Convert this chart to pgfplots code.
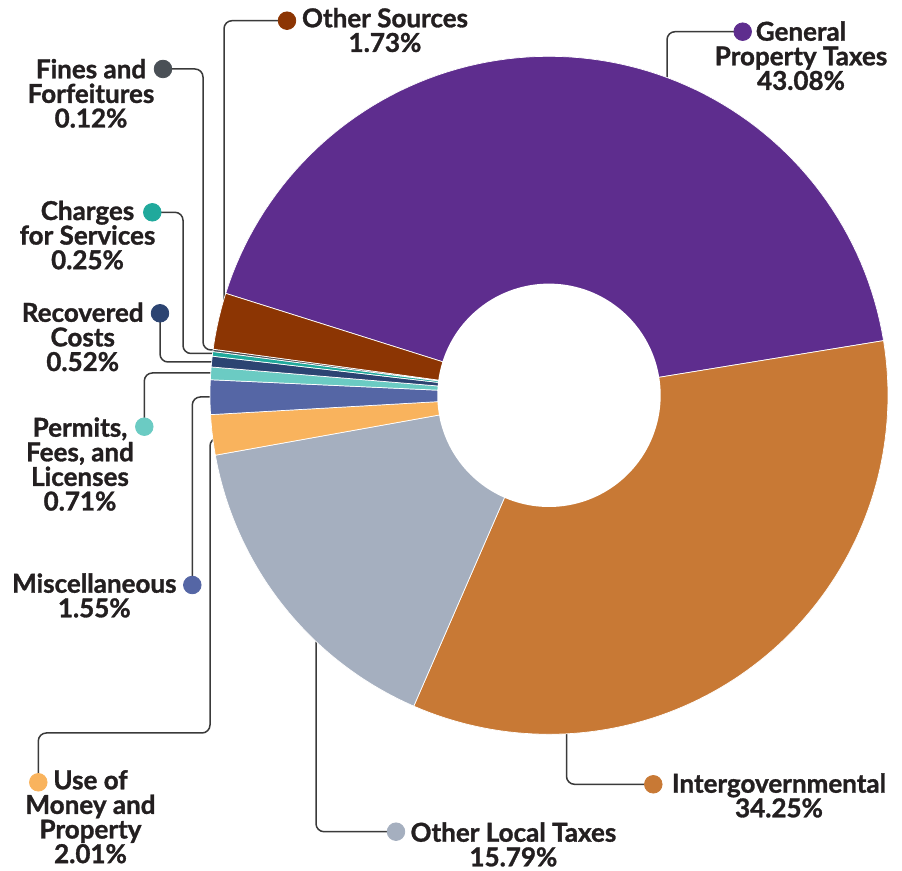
\documentclass[border=0pt]{standalone}
\usepackage{fontspec}
\setmainfont{Lato}[BoldFeatures={FakeBold=1.2}]
\usepackage{pgfplots}
\pgfplotsset{compat=1.18}

\definecolor{cGPT}{HTML}{5E2D8E}
\definecolor{cIGV}{HTML}{C87935}
\definecolor{cOLT}{HTML}{A5AFBF}
\definecolor{cUMP}{HTML}{F9B35D}
\definecolor{cMIS}{HTML}{5566A5}
\definecolor{cPFL}{HTML}{6BCBC3}
\definecolor{cREC}{HTML}{2C4472}
\definecolor{cCFS}{HTML}{20A99C}
\definecolor{cFNF}{HTML}{4A5056}
\definecolor{cOTH}{HTML}{8C3503}
\definecolor{txt}{HTML}{231F20}
\definecolor{lead}{HTML}{3A3A3A}

% shares of the ring as drawn, clockwise from the upper-left edge of the purple slice
\def\slices{42.56/cGPT,34.11/cIGV,15.64/cOLT,1.92/cUMP,1.64/cMIS,0.60/cPFL,0.51/cREC,0.22/cCFS,0.11/cFNF,2.69/cOTH}

% centred multi-line label, anchored at the baseline of its first line
\newcommand\stack[1]{\vtop{\fontsize{13}{12.3}\selectfont\bfseries\lineskip=0pt\lineskiplimit=-20pt
  \halign{\hfil##\hfil\cr#1\crcr}}}

\begin{document}
\begin{tikzpicture}
\begin{axis}[
  scale only axis, width=451pt, height=435.5pt,
  xmin=0, xmax=902, ymin=0, ymax=871, y dir=reverse,
  hide axis, clip=false]

% leader lines
\begin{scope}[lead, line width=0.75pt, rounded corners=4pt]
\draw (axis cs:742.7,31.7) -- (axis cs:667,31.7) -- (axis cs:667,80);
\draw (axis cs:653,784.3) -- (axis cs:566.5,784.3) -- (axis cs:566.5,730);
\draw (axis cs:396,831.7) -- (axis cs:316,831.7) -- (axis cs:316,638);
\draw (axis cs:287,20.7) -- (axis cs:224,20.7) -- (axis cs:224,304);
\draw (axis cs:163,69) -- (axis cs:203,69) -- (axis cs:203,350) -- (axis cs:218,350);
\draw (axis cs:152.3,212.3) -- (axis cs:183,212.3) -- (axis cs:183,353.5) -- (axis cs:218,353.5);
\draw (axis cs:160,313.3) -- (axis cs:160,362) -- (axis cs:217,362);
\draw (axis cs:144.3,426.7) -- (axis cs:144.3,373) -- (axis cs:217,373);
\draw (axis cs:192.3,585) -- (axis cs:192.3,397) -- (axis cs:216,397);
\draw (axis cs:38.3,782.3) -- (axis cs:38.3,733) -- (axis cs:210,733) -- (axis cs:210,438) -- (axis cs:218,438);
\end{scope}

% ring slices
\xdef\acc{162.5}
\foreach \v/\col in \slices {
  \pgfmathsetmacro\nxt{\acc-3.6*\v}
  \edef\doit{\noexpand\addplot[fill=\col, draw=white, line width=0.35pt, domain=\nxt:\acc, samples=90]
    ({549+339*cos(x)},{395.3-339*sin(x)}) -- (axis cs:549,395.3) -- cycle;}
  \doit
  \xdef\acc{\nxt}
}
% hole
\addplot[fill=white, draw=none, domain=0:360, samples=180]
  ({549+111.7*cos(x)},{395.3-111.7*sin(x)}) -- cycle;

% label dots
\pgfplotsset{dot/.style={only marks, mark=*, mark size=4.4pt, color=#1}}
\addplot[dot=cGPT] coordinates {(742.7,31.7)};
\addplot[dot=cIGV] coordinates {(653.3,784.3)};
\addplot[dot=cOLT] coordinates {(396,831.7)};
\addplot[dot=cUMP] coordinates {(38.3,782.3)};
\addplot[dot=cMIS] coordinates {(192.3,585)};
\addplot[dot=cPFL] coordinates {(144.3,426.7)};
\addplot[dot=cREC] coordinates {(160,313.3)};
\addplot[dot=cCFS] coordinates {(152.3,212.3)};
\addplot[dot=cFNF] coordinates {(163,69)};
\addplot[dot=cOTH] coordinates {(287,20.7)};

% labels
\begin{scope}[every node/.style={anchor=base, inner sep=0pt, text=txt}]
\node at (axis cs:801,40.7) {\stack{General\cr Property Taxes\cr 43.08\%}};
\node at (axis cs:779,792.7) {\stack{Intergovernmental\cr 34.25\%}};
\node at (axis cs:513.4,841.7) {\stack{Other Local Taxes\cr 15.79\%}};
\node at (axis cs:385,27.3) {\stack{Other Sources\cr 1.73\%}};
\node at (axis cs:91,78.3) {\stack{Fines and\cr Forfeitures\cr 0.12\%}};
\node at (axis cs:87.5,220) {\stack{Charges\cr for Services\cr 0.25\%}};
\node at (axis cs:82.7,321.8) {\stack{Recovered\cr Costs\cr 0.52\%}};
\node at (axis cs:80,436.7) {\stack{Permits,\cr Fees, and\cr Licenses\cr 0.71\%}};
\node at (axis cs:94.3,592.7) {\stack{Miscellaneous\cr 1.55\%}};
\node at (axis cs:90.5,789.3) {\stack{Use of\cr Money and\cr Property\cr 2.01\%}};
\end{scope}
\end{axis}
\pgfresetboundingbox
\useasboundingbox (0,0) rectangle (451pt,435.5pt);
\end{tikzpicture}
\end{document}
